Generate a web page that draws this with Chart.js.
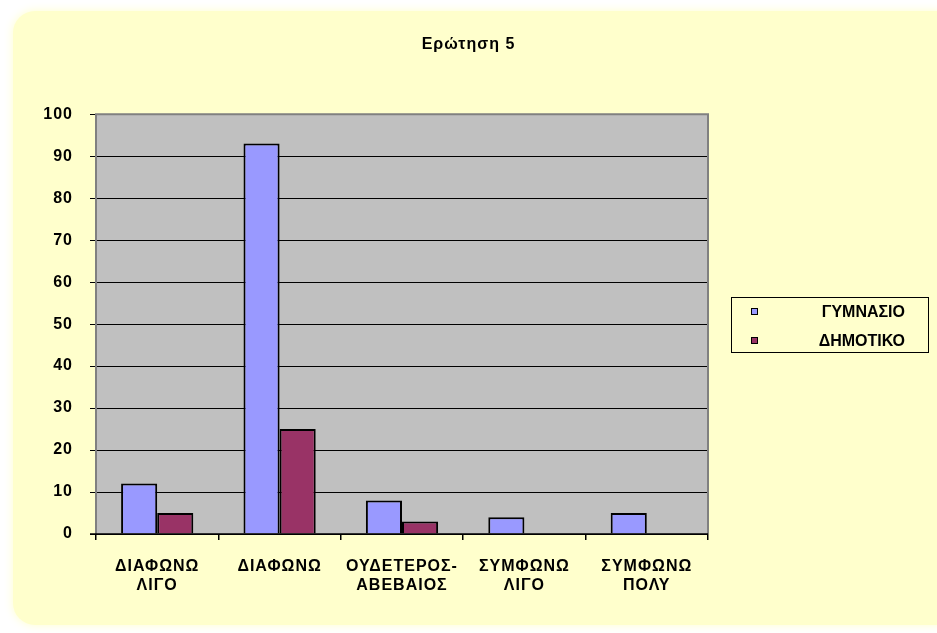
<!DOCTYPE html>
<html>
<head>
<meta charset="utf-8">
<script src="https://cdn.jsdelivr.net/npm/chart.js@4"></script>
<style>
  html, body { margin: 0; padding: 0; background: #ffffff; }
  #wrap { position: relative; width: 937px; height: 633px; }
  canvas { position: absolute; left: 0; top: 0; }
  #legend {
    position: absolute; left: 731px; top: 297px; width: 198px; height: 56px;
    border: 1px solid #000; box-sizing: border-box;
    font: bold 16px "Liberation Sans", Arial, sans-serif; color: #000;
  }
  .item { position: absolute; left: 0; width: 100%; height: 20px; }
  .sw { position: absolute; left: 19px; top: 6px; width: 5px; height: 5px; border: 1px solid #000; }
  .lbl { position: absolute; right: 23px; top: 0; line-height: 20px; }
</style>
</head>
<body>
<div id="wrap">
  <canvas id="c" width="937" height="633"></canvas>
  <div id="legend"></div>
</div>
<script>
const title = 'Ερώτηση 5';
const categories = [
  ['ΔΙΑΦΩΝΩ', 'ΛΙΓΟ'],
  ['ΔΙΑΦΩΝΩ'],
  ['ΟΥΔΕΤΕΡΟΣ-', 'ΑΒΕΒΑΙΟΣ'],
  ['ΣΥΜΦΩΝΩ', 'ΛΙΓΟ'],
  ['ΣΥΜΦΩΝΩ', 'ΠΟΛΥ']
];
const seriesNames = ['ΓΥΜΝΑΣΙΟ', 'ΔΗΜΟΤΙΚΟ'];
const gymnasio = [12, 93, 8, 4, 5];
const dimotiko = [5, 25, 3, 0, 0];
const yTicks = [0, 10, 20, 30, 40, 50, 60, 70, 80, 90, 100];
const colors = ['#9999FF', '#993366'];

const bgPlugin = {
  id: 'bg',
  beforeLayout(chart) {
    chart.ctx.letterSpacing = '1px';
  },
  beforeDraw(chart) {
    const ctx = chart.ctx;
    ctx.letterSpacing = '1px';
    ctx.save();
    ctx.fillStyle = '#ffffff';
    ctx.fillRect(0, 0, chart.width, chart.height);
    ctx.shadowColor = 'rgba(255,255,204,1)';
    ctx.shadowBlur = 10;
    ctx.fillStyle = '#FFFFCC';
    ctx.beginPath();
    ctx.roundRect(13, 11, 945, 614, 22);
    ctx.fill();
    ctx.restore();
    const a = chart.chartArea;
    ctx.save();
    ctx.fillStyle = '#C0C0C0';
    ctx.fillRect(a.left, a.top, a.right - a.left, a.bottom - a.top);
    ctx.restore();
  },
  afterDatasetsDraw(chart) {
    const a = chart.chartArea;
    const ctx = chart.ctx;
    ctx.save();
    ctx.strokeStyle = '#808080';
    ctx.lineWidth = 2;
    ctx.beginPath();
    ctx.moveTo(a.left, a.bottom);
    ctx.lineTo(a.left, a.top);
    ctx.lineTo(a.right, a.top);
    ctx.lineTo(a.right, a.bottom);
    ctx.stroke();
    ctx.strokeStyle = '#000';
    ctx.lineWidth = 1.5;
    ctx.beginPath();
    ctx.moveTo(a.left - 6, a.bottom);
    ctx.lineTo(a.right, a.bottom);
    ctx.stroke();
    ctx.restore();
  }
};

const font = { family: '"Liberation Sans", Arial, sans-serif', size: 16, weight: 'bold' };

const chart = new Chart(document.getElementById('c'), {
  type: 'bar',
  data: {
    labels: categories,
    datasets: [
      { label: seriesNames[0], data: gymnasio, backgroundColor: colors[0], borderColor: '#000', borderWidth: 2, borderSkipped: 'bottom' },
      { label: seriesNames[1], data: dimotiko, backgroundColor: colors[1], borderColor: '#000', borderWidth: 2, borderSkipped: 'bottom' }
    ]
  },
  options: {
    responsive: false,
    animation: false,
    devicePixelRatio: 1,
    layout: { padding: 0 },
    datasets: { bar: { categoryPercentage: 0.59, barPercentage: 1.0 } },
    plugins: {
      legend: { display: false },
      tooltip: { enabled: false },
      title: {
        display: true, text: title, color: '#000',
        font: { family: '"Liberation Sans", Arial, sans-serif', size: 16, weight: 'bold', lineHeight: 1.2 },
        padding: { top: 35, bottom: 60 }
      }
    },
    scales: {
      x: {
        offset: true,
        grid: { display: true, drawOnChartArea: false, drawTicks: true, tickLength: 6, color: '#000', lineWidth: 1.5, offset: true },
        border: { display: false },
        ticks: { color: '#000', font: { ...font, lineHeight: 1.2 }, padding: 17, maxRotation: 0, autoSkip: false },
        afterFit(s) { s.height = 99; }
      },
      y: {
        min: 0, max: 100,
        afterBuildTicks(s) { s.ticks = yTicks.map(v => ({ value: v })); },
        grid: { color: '#000', lineWidth: 1, tickLength: 6, drawTicks: true },
        border: { display: false },
        ticks: { color: '#000', font: font, padding: 17 },
        afterFit(s) { s.width = 96; }
      },
      yRight: {
        type: 'linear', position: 'right', min: 0, max: 100,
        grid: { display: false, drawTicks: false },
        border: { display: false },
        ticks: { display: false },
        afterFit(s) { s.width = 229; }
      }
    }
  },
  plugins: [bgPlugin]
});

const leg = document.getElementById('legend');
chart.data.datasets.forEach((ds, i) => {
  const it = document.createElement('div');
  it.className = 'item';
  it.style.top = (4 + i * 29) + 'px';
  const sw = document.createElement('div');
  sw.className = 'sw';
  sw.style.background = ds.backgroundColor;
  const lb = document.createElement('div');
  lb.className = 'lbl';
  lb.textContent = ds.label;
  it.appendChild(sw); it.appendChild(lb);
  leg.appendChild(it);
});
</script>
</body>
</html>
